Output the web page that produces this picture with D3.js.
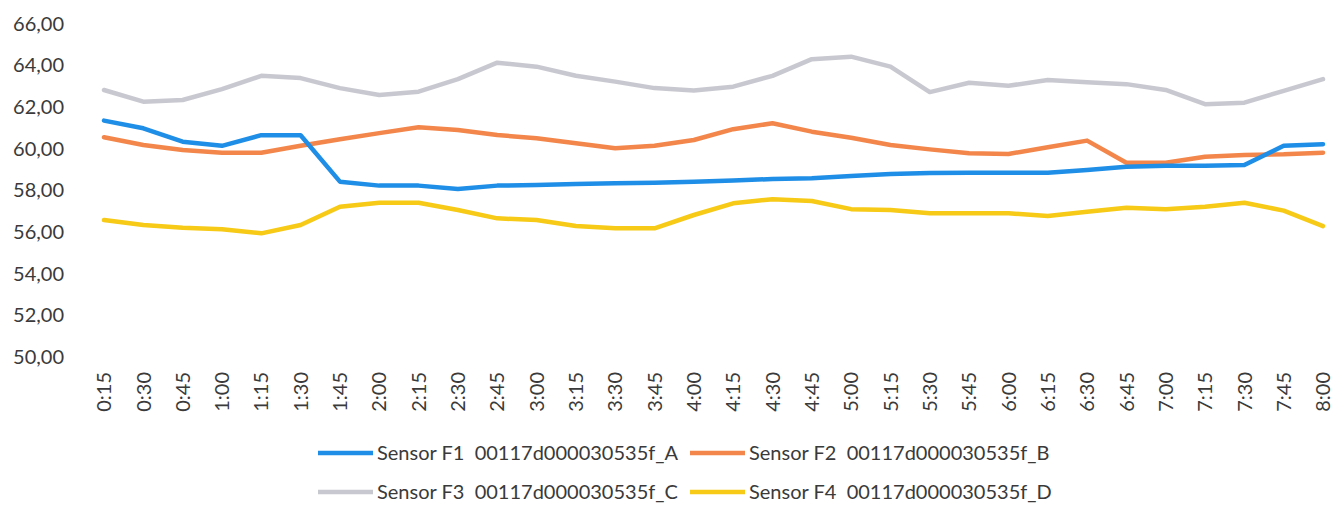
<!DOCTYPE html>
<html>
<head>
<meta charset="utf-8">
<script src="https://cdn.jsdelivr.net/npm/d3@7"></script>
<style>
  html, body { margin: 0; padding: 0; background: #ffffff; }
  svg text { font-family: Lato, "Open Sans", sans-serif; fill: #3a3a3a; white-space: pre; }
</style>
</head>
<body>
<svg id="chart" width="1342" height="506"></svg>
<script>
const times = ["0:15","0:30","0:45","1:00","1:15","1:30","1:45","2:00","2:15","2:30","2:45","3:00","3:15","3:30","3:45","4:00",
               "4:15","4:30","4:45","5:00","5:15","5:30","5:45","6:00","6:15","6:30","6:45","7:00","7:15","7:30","7:45","8:00"];
const yTicks = [50, 52, 54, 56, 58, 60, 62, 64, 66];
const seriesNames = ["Sensor F1  00117d000030535f_A", "Sensor F2  00117d000030535f_B",
                     "Sensor F3  00117d000030535f_C", "Sensor F4  00117d000030535f_D"];
const f1 = [61.33,60.96,60.32,60.12,60.63,60.63,58.40,58.21,58.21,58.05,58.21,58.24,58.29,58.32,58.35,58.40,
            58.45,58.53,58.56,58.67,58.77,58.82,58.83,58.83,58.83,58.96,59.12,59.16,59.16,59.20,60.12,60.20];
const f2 = [60.53,60.16,59.92,59.79,59.79,60.12,60.44,60.73,61.01,60.88,60.64,60.48,60.24,60.00,60.12,60.40,
            60.92,61.20,60.80,60.51,60.16,59.95,59.76,59.73,60.05,60.37,59.31,59.31,59.60,59.68,59.71,59.79];
const f3 = [62.80,62.24,62.32,62.84,63.48,63.37,62.89,62.56,62.72,63.32,64.11,63.92,63.48,63.20,62.89,62.77,
            62.96,63.48,64.28,64.40,63.92,62.70,63.15,63.00,63.28,63.17,63.08,62.80,62.12,62.19,62.76,63.32];
const f4 = [56.56,56.32,56.19,56.12,55.92,56.32,57.20,57.39,57.39,57.04,56.64,56.56,56.27,56.16,56.16,56.80,
            57.36,57.56,57.47,57.08,57.04,56.88,56.88,56.88,56.75,56.96,57.15,57.08,57.20,57.39,57.01,56.27];
const colors = ["#1E8EE6", "#F3864A", "#C8C8D0", "#F6CA16"];

const series = [f1, f2, f3, f4];
// draw order: gray, yellow, orange, blue on top
const drawOrder = [2, 3, 1, 0];

const svg = d3.select("#chart");
const x = d3.scalePoint().domain(times).range([104, 1323]);
const y = d3.scaleLinear().domain([50, 66]).range([356.7, 23.3]);

// Y axis labels
const fmt = v => d3.format(".2f")(v).replace(".", ",");
svg.append("g").selectAll("text").data(yTicks).join("text")
  .attr("x", 64).attr("y", d => y(d)).attr("dy", "0.36em")
  .attr("text-anchor", "end").style("font-size", "20px")
  .text(fmt);

// X axis labels (rotated)
svg.append("g").selectAll("text").data(times).join("text")
  .attr("transform", d => `translate(${x(d)},372) rotate(-90)`)
  .attr("text-anchor", "end").attr("dy", "0.36em")
  .style("font-size", "20px")
  .text(d => d);

// Lines
const line = d3.line().x((d, i) => x(times[i])).y(d => y(d));
svg.append("g").selectAll("path").data(drawOrder).join("path")
  .attr("d", k => line(series[k]))
  .attr("fill", "none")
  .attr("stroke", k => colors[k])
  .attr("stroke-width", 4.5)
  .attr("stroke-linejoin", "round")
  .attr("stroke-linecap", "round");

// Legend
const legPos = [[318, 453], [690, 453], [318, 492], [690, 492]];
const leg = svg.append("g").selectAll("g").data(seriesNames).join("g")
  .attr("transform", (d, i) => `translate(${legPos[i][0]},${legPos[i][1]})`);
leg.append("line").attr("x1", 0).attr("x2", 55).attr("y1", 0).attr("y2", 0)
  .attr("stroke", (d, i) => colors[i]).attr("stroke-width", 4.5);
leg.append("text").attr("x", 59).attr("dy", "0.36em").style("font-size", "20px")
  .attr("xml:space", "preserve")
  .text(d => d);
</script>
</body>
</html>
